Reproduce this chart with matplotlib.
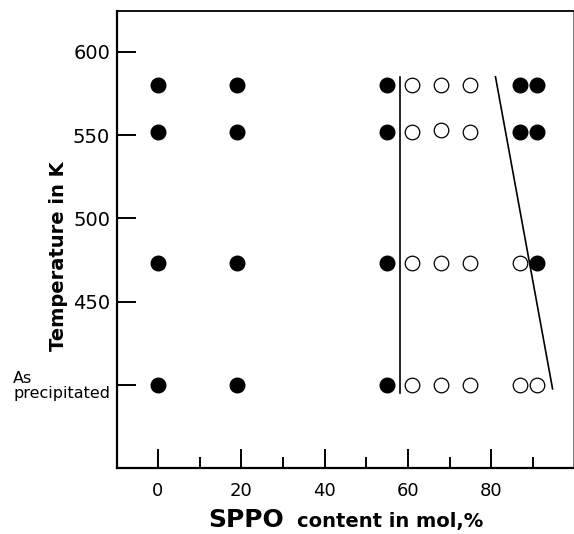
import matplotlib
matplotlib.use("Agg")
import matplotlib.pyplot as plt
from matplotlib.ticker import MultipleLocator

# temperature levels (K); 400 stands for "as precipitated"
temps = [580, 552, 473, 400]

# filled circles : SPPO mol% per level
filled_x = [0, 19, 55, 87, 91,
            0, 19, 55, 87, 91,
            0, 19, 55, 91,
            0, 19, 55]
filled_y = [580, 580, 580, 580, 580,
            552, 552, 552, 552, 552,
            473, 473, 473, 473,
            400, 400, 400]

# open circles
open_x = [61, 68, 75,
          61, 68, 75,
          61, 68, 75, 87,
          61, 68, 75, 87, 91]
open_y = [580, 580, 580,
          552, 553, 552,
          473, 473, 473, 473,
          400, 400, 400, 400, 400]

# phase boundary lines
left_bx = [58, 58]
left_by = [585, 395]
right_bx = [81, 94.7]
right_by = [585, 397.5]

ytick_vals = [400, 450, 500, 550, 600]
ytick_labels = ["As\nprecipitated", "450", "500", "550", "600"]
xtick_vals = [0, 20, 40, 60, 80]

fig = plt.figure(figsize=(5.74, 5.34), dpi=100)
ax = fig.add_axes([117/574, 66/534, 456/574, 457/534])

ax.plot(left_bx, left_by, color="black", lw=1.2)
ax.plot(right_bx, right_by, color="black", lw=1.2)
ax.plot(filled_x, filled_y, "o", color="black", ms=10.5, ls="none")
ax.plot(open_x, open_y, "o", mfc="white", mec="black", mew=0.9, ms=10.5, ls="none")

ax.set_xlim(-9.8, 99.6)
ax.set_ylim(350, 624.5)

ax.tick_params(axis="x", which="major", direction="in", length=14, width=1.4,
               labelsize=13, pad=10, top=False)
ax.tick_params(axis="x", which="minor", direction="in", length=8, width=1.4, top=False)
ax.tick_params(axis="y", which="major", direction="in", length=14, width=1.4,
               labelsize=14, pad=5, right=False)

ax.set_xticks(xtick_vals)
ax.xaxis.set_minor_locator(MultipleLocator(10))
ax.set_yticks(ytick_vals)
ax.set_yticklabels(ytick_labels)
first = ax.get_yticklabels()[0]
first.set_fontsize(11.5)
first.set_multialignment("left")
first.set_linespacing(1.0)

for s in ["left", "bottom"]:
    ax.spines[s].set_linewidth(1.6)
ax.spines["top"].set_linewidth(1.3)
ax.spines["right"].set_linewidth(0.7)
ax.spines["right"].set_color("0.45")

ax.set_ylabel("Temperature in K", fontsize=14, fontweight="bold")
ax.yaxis.set_label_coords(-0.107, 0.464)

fig.text(208/574, 7/534, "SPPO", fontsize=18, fontweight="bold", va="baseline", ha="left")
fig.text(297/574, 7/534, "content in mol,%", fontsize=14, fontweight="bold", va="baseline", ha="left")

fig.savefig("out.png", dpi=100)
